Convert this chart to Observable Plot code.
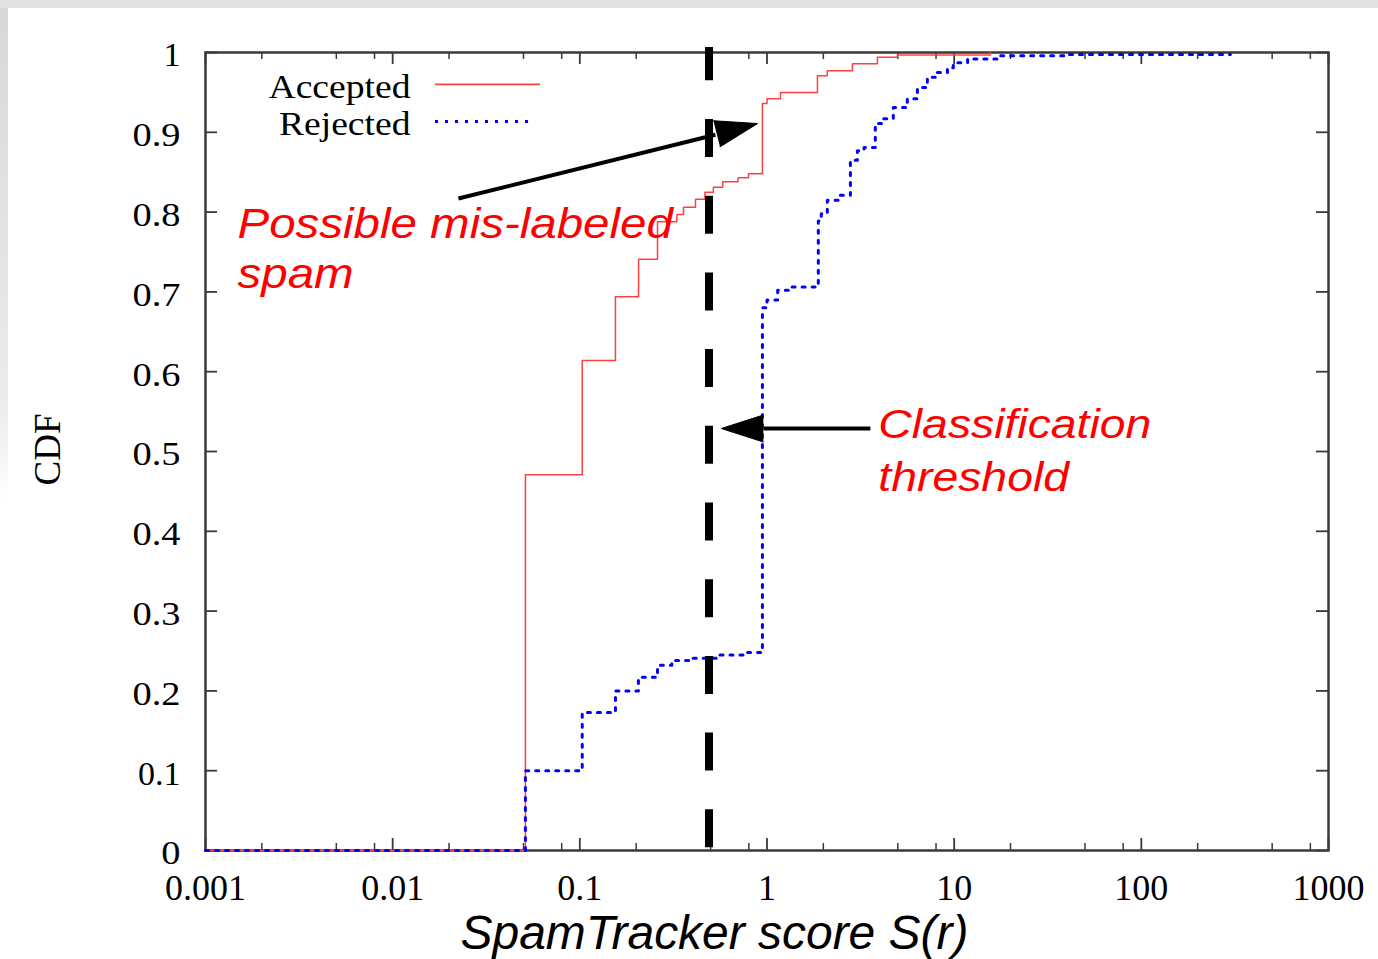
<!DOCTYPE html>
<html><head><meta charset="utf-8">
<script src="https://cdn.jsdelivr.net/npm/d3@7"></script>
<script src="https://cdn.jsdelivr.net/npm/@observablehq/plot@0.6"></script>
<style>
html,body{margin:0;padding:0;}
body{width:1378px;height:959px;position:relative;overflow:hidden;background:#e2e2e2;}
#leftshade{position:absolute;left:0;top:8px;width:8px;height:951px;background:linear-gradient(to bottom,#d8d8d8 0%,#ececec 42%,#ffffff 52%,#ffffff 100%);}
#panel{position:absolute;left:8px;top:8px;width:1370px;height:951px;background:#fff;}
#chart{position:absolute;left:0;top:0;}
</style></head><body>
<div id="leftshade"></div><div id="panel"></div><div id="chart"></div>
<script>
// ---- data ----
const acceptedScore = [0.001, 0.0512, 0.103, 0.155, 0.206, 0.26, 0.33, 0.358, 0.415, 0.466, 0.517, 0.58, 0.70, 0.796, 0.945, 1.0, 1.18, 1.86, 2.10, 2.86, 3.89, 4.97, 15.6];
const acceptedCdf   = [0, 0.471, 0.614, 0.694, 0.741, 0.788, 0.797, 0.806, 0.816, 0.825, 0.831, 0.838, 0.843, 0.848, 0.936, 0.942, 0.95, 0.971, 0.977, 0.986, 0.994, 0.997, 1.0];
const rejectedScore = [0.001, 0.0512, 0.103, 0.155, 0.2056, 0.26, 0.31, 0.40, 0.55, 0.75, 0.945, 1.0, 1.14, 1.3, 1.88, 1.95, 2.10, 2.4, 2.79, 3.04, 3.3, 3.79, 4.1, 4.73, 5.62, 6.36, 7.19, 8.13, 9.2, 9.9, 11.8, 17.6, 40, 299];
const rejectedCdf   = [0, 0.100, 0.173, 0.200, 0.217, 0.232, 0.238, 0.241, 0.245, 0.248, 0.68, 0.69, 0.702, 0.706, 0.789, 0.798, 0.815, 0.821, 0.865, 0.877, 0.881, 0.911, 0.917, 0.931, 0.942, 0.956, 0.969, 0.975, 0.981, 0.987, 0.992, 0.996, 0.9975, 0.9975];
const thresholdScore = 0.49;
const seriesNames = ["Accepted", "Rejected"];
const xTicks = [0.001, 0.01, 0.1, 1, 10, 100, 1000];
const xTickLabels = ["0.001", "0.01", "0.1", "1", "10", "100", "1000"];
const minorSteps = [2, 5, 8];
const yTicks = [0, 0.1, 0.2, 0.3, 0.4, 0.5, 0.6, 0.7, 0.8, 0.9, 1];
const yTickLabels = ["0", "0.1", "0.2", "0.3", "0.4", "0.5", "0.6", "0.7", "0.8", "0.9", "1"];
const xLabel = "SpamTracker score S(r)";
const yLabel = "CDF";
const annot1 = ["Possible mis-labeled", "spam"];
const annot2 = ["Classification", "threshold"];

const accepted = acceptedScore.map((s, i) => ({s, c: acceptedCdf[i]}));
const rejected = rejectedScore.map((s, i) => ({s, c: rejectedCdf[i]}));
const xMinor = xTicks.slice(0, -1).flatMap(d => minorSteps.map(k => d * k));

const W = 1378, H = 959, mL = 205, mR = 50, mT = 52, mB = 109;
const fw = W - mL - mR, fh = H - mT - mB;
const axisCol = "#3a3a3a";
const serif = "Liberation Serif, Times New Roman, serif";
const sans = "Liberation Sans, Arial, sans-serif";
const red = "#ff4040", blue = "#0000ff", annRed = "#ff0000";

const chart = Plot.plot({
  width: W, height: H,
  marginLeft: mL, marginRight: mR, marginTop: mT, marginBottom: mB,
  style: {background: "transparent", overflow: "visible"},
  x: {type: "log", domain: [0.001, 1000], axis: null},
  y: {domain: [0, 1], axis: null},
  marks: [
    Plot.frame({stroke: axisCol, strokeWidth: 2.5}),
    // ticks (inward)
    Plot.tickX(xTicks, {x: d => d, insetTop: fh - 12, stroke: axisCol, strokeWidth: 1.8}),
    Plot.tickX(xTicks, {x: d => d, insetBottom: fh - 12, stroke: axisCol, strokeWidth: 1.8}),
    Plot.tickX(xMinor, {x: d => d, insetTop: fh - 7, stroke: axisCol, strokeWidth: 1.5}),
    Plot.tickX(xMinor, {x: d => d, insetBottom: fh - 7, stroke: axisCol, strokeWidth: 1.5}),
    Plot.tickY(yTicks, {y: d => d, insetRight: fw - 12, stroke: axisCol, strokeWidth: 1.8}),
    Plot.tickY(yTicks, {y: d => d, insetLeft: fw - 12, stroke: axisCol, strokeWidth: 1.8}),
    // tick labels
    Plot.text(xTicks, {x: d => d, text: (d, i) => xTickLabels[i], frameAnchor: "bottom", lineAnchor: "top", dy: 24,
      fontFamily: serif, fontSize: 36, fill: "black"}),
    Plot.text(yTicks, {y: d => d, text: (d, i) => yTickLabels[i], frameAnchor: "left", textAnchor: "end", dx: -25, dy: 3,
      fontFamily: serif, fontSize: 34, fill: "black"}),
    Plot.text([yLabel], {text: d => d, frameAnchor: "left", textAnchor: "middle", dx: -157.5, dy: -2, rotate: -90,
      fontFamily: serif, fontSize: 37, fill: "black"}),
    Plot.text([xLabel], {text: d => d, frameAnchor: "bottom", textAnchor: "middle", dx: -52.5, dy: 98, lineAnchor: "bottom",
      fontFamily: sans, fontStyle: "italic", fontSize: 48, fill: "black"}),
    // curves
    Plot.line(accepted, {x: "s", y: "c", curve: "step-after", stroke: red, strokeWidth: 1.5}),
    Plot.line(rejected, {x: "s", y: "c", curve: "step-after", stroke: blue, strokeWidth: 3, strokeDasharray: "3,7"}),
    // legend
    Plot.text([seriesNames[0]], {text: d => d, x: 0.01245, y: 0.9436, textAnchor: "end", lineAnchor: "bottom",
      fontFamily: serif, fontSize: 33, fill: "black"}),
    Plot.text([seriesNames[1]], {text: d => d, x: 0.01245, y: 0.8972, textAnchor: "end", lineAnchor: "bottom",
      fontFamily: serif, fontSize: 33, fill: "black"}),
    Plot.ruleY([0], {y: 0.96, x1: 0.01694, x2: 0.0616, stroke: red, strokeWidth: 1.8}),
    Plot.ruleY([0], {y: 0.9135, x1: 0.01694, x2: 0.058, stroke: blue, strokeWidth: 3, strokeDasharray: "3,7"}),
    // threshold
    Plot.ruleX([thresholdScore], {x: d => d, y1: 1.00627, y2: 0, stroke: "black", strokeWidth: 8,
      strokeDasharray: "38,38.7", strokeDashoffset: 4.7}),
    // arrows
    Plot.link([0], {x1: 0.02246, y1: 0.817, x2: 0.53, y2: 0.897, stroke: "black", strokeWidth: 4}),
    Plot.vector([0], {x: 0.889, y: 0.911, length: 42, rotate: 75.9, anchor: "end", shape: "spike", r: 13.5,
      fill: "black", stroke: "black", strokeWidth: 1}),
    Plot.link([0], {x1: 3.567, y1: 0.5288, x2: 0.957, y2: 0.5288, stroke: "black", strokeWidth: 4}),
    Plot.vector([0], {x: 0.57, y: 0.5288, length: 42, rotate: 270, anchor: "end", shape: "spike", r: 13.5,
      fill: "black", stroke: "black", strokeWidth: 1}),
    // annotations
    Plot.text([annot1[0]], {text: d => d, x: 0.001483, y: 0.768, textAnchor: "start", lineAnchor: "bottom",
      fontFamily: sans, fontStyle: "italic", fontSize: 42, fill: annRed}),
    Plot.text([annot1[1]], {text: d => d, x: 0.001483, y: 0.7055, textAnchor: "start", lineAnchor: "bottom",
      fontFamily: sans, fontStyle: "italic", fontSize: 42, fill: annRed}),
    Plot.text([annot2[0]], {text: d => d, x: 3.936, y: 0.5175, textAnchor: "start", lineAnchor: "bottom",
      fontFamily: sans, fontStyle: "italic", fontSize: 41, fill: annRed}),
    Plot.text([annot2[1]], {text: d => d, x: 3.936, y: 0.451, textAnchor: "start", lineAnchor: "bottom",
      fontFamily: sans, fontStyle: "italic", fontSize: 41, fill: annRed})
  ]
});
document.getElementById("chart").append(chart);

// horizontal stretch of the glyphs, as in the picture
const stretchBy = new Map();
yTickLabels.forEach(t => stretchBy.set(t, 1.13));
seriesNames.forEach(t => stretchBy.set(t, 1.14));
[...annot1, ...annot2].forEach(t => stretchBy.set(t, 1.13));
chart.querySelectorAll("text").forEach(t => {
  const s = t.textContent;
  let L = null;
  if (s === xLabel) L = 508;
  else if (stretchBy.has(s) && !xTickLabels.includes(s)) L = t.getComputedTextLength() * stretchBy.get(s);
  if (L) {
    t.setAttribute("textLength", L.toFixed(1));
    t.setAttribute("lengthAdjust", "spacingAndGlyphs");
  }
});
</script></body></html>
